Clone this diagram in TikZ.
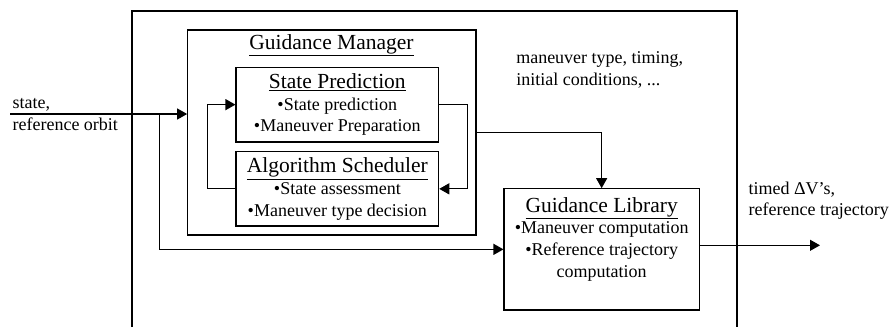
\documentclass[tikz,border=0pt]{standalone}
\usepackage{fontspec}
\setmainfont{Liberation Serif}
\usetikzlibrary{arrows.meta}
\begin{document}
\begin{tikzpicture}[x=1pt,y=-1pt,
  line width=1.1pt,
  body/.style={font=\fontsize{18}{21.7}\selectfont},
  ttl/.style={font=\fontsize{21.5}{24}\selectfont},
  box/.style={draw, rectangle, inner sep=0pt, align=center, body},
  lbl/.style={anchor=north west, inner sep=0pt, align=left, body},
  arr/.style={-{Triangle[length=10pt,width=11pt]}}
]
\useasboundingbox (0,0) rectangle (896,327);
% outer frame
\draw (132,327) -- (132,11) -- (737,11) -- (737,327);
% guidance manager
\node[box, minimum width=288.3pt, minimum height=205pt] (gm) at (331.85,132.5) {};
\node[ttl, inner sep=0pt] (gmt) at (331.5,45) {\underline{Guidance Manager}};
\node[box, minimum width=202.7pt, minimum height=74.7pt] (sp) at (337.35,104.65)
  {{\fontsize{21.5}{24}\selectfont\underline{State Prediction}}\\•State prediction\\•Maneuver Preparation};
\node[box, minimum width=202.7pt, minimum height=74.3pt] (as) at (337.35,188.85)
  {{\fontsize{21.5}{24}\selectfont\underline{Algorithm Scheduler}}\\•State assessment\\•Maneuver type decision};
\node[box, minimum width=195.3pt, minimum height=121.3pt] (gl) at (601.65,249.35)
  {{\fontsize{21.5}{24}\selectfont\underline{Guidance Library}}\\•Maneuver computation\\•Reference trajectory\\computation\\[-4pt]\strut};
% labels
\node[lbl] (l1) at (12,98) {state,\\reference orbit};
\node[lbl] (l2) at (515.7,51) {maneuver type, timing,\\initial conditions, ...};
\node[lbl] (l3) at (748,181) {timed ΔV’s,\\reference trajectory};
% connectors
\coordinate (in) at (10,114);
\coordinate (br) at (159.7,114);
\coordinate (out) at (820,245.3);
\draw[arr] (in) -- (in -| gm.west);
\draw[arr] (br) |- (gl.west);
\draw[arr] (as.west) -- ++(-27.7,0) |- (sp.west);
\draw[arr] (sp.east) -- ++(28,0) |- (as.east);
\draw[arr] (gm.east) -| (gl.north);
\draw[arr] (out -| gl.east) -- (out);
\end{tikzpicture}
\end{document}
